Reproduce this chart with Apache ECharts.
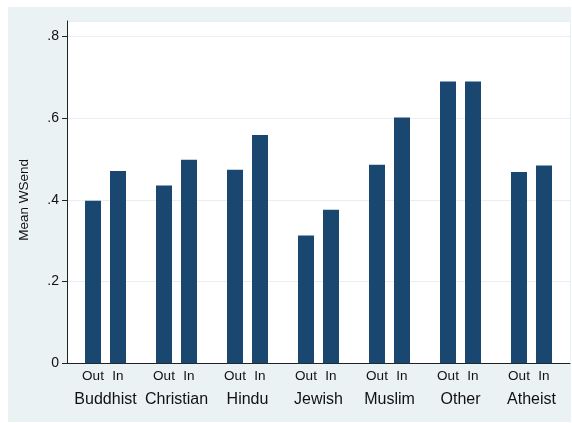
<!DOCTYPE html>
<html>
<head>
<meta charset="utf-8">
<script src="https://cdn.jsdelivr.net/npm/echarts@6/dist/echarts.min.js"></script>
<style>
html,body{margin:0;padding:0;background:#fff;}
#panel{position:absolute;left:8px;top:7px;width:563px;height:415px;background:#EAF2F3;}
#chart{position:absolute;left:0;top:0;width:572px;height:423px;}
</style>
</head>
<body>
<div id="panel"></div>
<div id="chart"></div>
<script>
const categories = ['Buddhist','Christian','Hindu','Jewish','Muslim','Other','Atheist'];
const outValues = [0.398, 0.435, 0.474, 0.313, 0.486, 0.690, 0.468];
const inValues  = [0.471, 0.498, 0.559, 0.376, 0.602, 0.690, 0.484];
const yTicks = [0, 0.2, 0.4, 0.6, 0.8];
const yTitle = 'Mean WSend';

const FONT = '"Liberation Sans", Arial, Helvetica, sans-serif';
const NAVY = '#1a476f';
const AXIS = '#222';
const GRIDC = '#E7EFF1';

const chart = echarts.init(document.getElementById('chart'), null, {renderer:'canvas'});
const fmt = v => v === 0 ? '0' : String(+v.toFixed(1)).replace(/^0/, '');

chart.setOption({
  backgroundColor: 'transparent',
  animation: false,
  textStyle: {fontFamily: FONT},
  grid: [
    {left: 67, top: 21, width: 503, height: 342.3, show: true, backgroundColor: '#fff', borderWidth: 0},
    {left: 70, top: 36.5, width: 497, height: 326.8, show: false}
  ],
  xAxis: [
    {type: 'value', gridIndex: 0, min: 0, max: 1, show: true,
     axisLine: {show: true, lineStyle: {color: AXIS, width: 1}},
     axisTick: {show: false}, axisLabel: {show: false}, splitLine: {show: false}},
    {type: 'category', gridIndex: 1, data: categories,
     axisLine: {show: false}, axisTick: {show: false}, splitLine: {show: false},
     axisLabel: {interval: 0, hideOverlap: false, fontSize: 16, color: '#111', margin: 28, fontFamily: FONT}}
  ],
  yAxis: [
    {type: 'value', gridIndex: 0, min: 0, max: 0.8 * 342.3 / 326.8, interval: 0.2,
     axisLine: {show: true, lineStyle: {color: AXIS, width: 1}},
     axisTick: {show: false}, axisLabel: {show: false},
     splitLine: {show: true, lineStyle: {color: GRIDC, width: 1}}},
    {type: 'value', gridIndex: 1, min: yTicks[0], max: yTicks[yTicks.length-1], interval: 0.2,
     offset: 3,
     name: yTitle, nameLocation: 'middle', nameGap: 36,
     nameTextStyle: {fontSize: 13.5, color: '#111', fontFamily: FONT},
     axisLine: {show: false},
     axisTick: {show: true, length: 5, lineStyle: {color: AXIS}},
     axisLabel: {fontSize: 14, color: '#111', margin: 8, formatter: fmt, fontFamily: FONT},
     splitLine: {show: false}}
  ],
  series: [
    {name: 'Out', type: 'bar', xAxisIndex: 1, yAxisIndex: 1, data: outValues,
     barWidth: 16, barGap: '56.25%',
     itemStyle: {color: NAVY},
     label: {show: true, position: 'bottom', distance: 6, formatter: 'Out', fontSize: 13.5, color: '#111', fontFamily: FONT}},
    {name: 'In', type: 'bar', xAxisIndex: 1, yAxisIndex: 1, data: inValues,
     barWidth: 16, barGap: '56.25%',
     itemStyle: {color: NAVY},
     label: {show: true, position: 'bottom', distance: 6, formatter: 'In', fontSize: 13.5, color: '#111', fontFamily: FONT}}
  ]
});
</script>
</body>
</html>
